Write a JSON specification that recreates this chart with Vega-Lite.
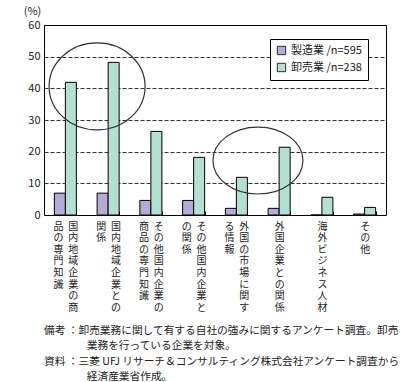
{
  "$schema": "https://vega.github.io/schema/vega-lite/v6.json",
  "autosize": "none",
  "width": 342,
  "height": 190,
  "padding": {"left": 44, "top": 25, "right": 26, "bottom": 167},
  "config": {
    "font": "Noto Sans CJK JP",
    "view": {"stroke": "black", "strokeWidth": 1},
    "axisY": {
      "labelOverlap": false,
      "titleAngle": 0,
      "titleX": -12,
      "titleY": -14,
      "titleAlign": "center",
      "titleBaseline": "middle",
      "titleFontWeight": "normal",
      "titleFontSize": 11,
      "titleColor": "#222",
      "labelFontSize": 11,
      "labelColor": "#222",
      "labelPadding": 4,
      "ticks": false,
      "domain": false,
      "grid": true,
      "gridColor": "black",
      "gridDash": [4, 2],
      "gridWidth": 0.8
    }
  },
  "title": {
    "text": [
      "備考 ：卸売業務に関して有する自社の強みに関するアンケート調査。卸売",
      "\u200B　　　　業務を行っている企業を対象。",
      "資料 ：三菱 UFJ リサーチ＆コンサルティング株式会社アンケート調査から",
      "\u200B　　　　経済産業省作成。"
    ],
    "orient": "bottom",
    "anchor": "start",
    "frame": "group",
    "fontSize": 10.7,
    "fontWeight": "normal",
    "lineHeight": 15.2,
    "color": "#222",
    "offset": 14
  },
  "layer": [
    {
      "data": {
        "values": [
          {"cat": "国内地域企業の商品の専門知識", "series": "製造業 /n=595", "value": 6.9},
          {"cat": "国内地域企業の商品の専門知識", "series": "卸売業 /n=238", "value": 41.9},
          {"cat": "国内地域企業との関係", "series": "製造業 /n=595", "value": 6.9},
          {"cat": "国内地域企業との関係", "series": "卸売業 /n=238", "value": 48.2},
          {"cat": "その他国内企業の商品の専門知識", "series": "製造業 /n=595", "value": 4.6},
          {"cat": "その他国内企業の商品の専門知識", "series": "卸売業 /n=238", "value": 26.4},
          {"cat": "その他国内企業との関係", "series": "製造業 /n=595", "value": 4.6},
          {"cat": "その他国内企業との関係", "series": "卸売業 /n=238", "value": 18.2},
          {"cat": "外国の市場に関する情報", "series": "製造業 /n=595", "value": 2.1},
          {"cat": "外国の市場に関する情報", "series": "卸売業 /n=238", "value": 11.9},
          {"cat": "外国企業との関係", "series": "製造業 /n=595", "value": 2.1},
          {"cat": "外国企業との関係", "series": "卸売業 /n=238", "value": 21.4},
          {"cat": "海外ビジネス人材", "series": "製造業 /n=595", "value": 0},
          {"cat": "海外ビジネス人材", "series": "卸売業 /n=238", "value": 5.6},
          {"cat": "その他", "series": "製造業 /n=595", "value": 0.3},
          {"cat": "その他", "series": "卸売業 /n=238", "value": 2.4}
        ]
      },
      "mark": {"type": "bar", "stroke": "black", "strokeWidth": 1},
      "encoding": {
        "x": {
          "field": "cat",
          "type": "nominal",
          "sort": null,
          "scale": {"paddingInner": 0.485, "paddingOuter": 0.2425},
          "axis": {
            "title": null,
            "labelAngle": 0,
            "labelFontSize": 10,
            "labelLineHeight": 11.6,
            "labelBaseline": "top",
            "labelAlign": "center",
            "labelColor": "#222",
            "labelPadding": 10,
            "labelOverlap": false,
            "tickBand": "extent",
            "tickSize": -4,
            "tickColor": "black",
            "domain": false,
            "labelExpr": "[(length(datum.label) > 8 ? '\u200B' + (length(datum.label) > 8 ? substring(datum.label, 8, 9) : '　') + '\u2002' : '') + substring(datum.label, 0, 1), (length(datum.label) > 8 ? '\u200B' + (length(datum.label) > 9 ? substring(datum.label, 9, 10) : '　') + '\u2002' : '') + substring(datum.label, 1, 2), (length(datum.label) > 8 ? '\u200B' + (length(datum.label) > 10 ? substring(datum.label, 10, 11) : '　') + '\u2002' : '') + substring(datum.label, 2, 3), (length(datum.label) > 8 ? '\u200B' + (length(datum.label) > 11 ? substring(datum.label, 11, 12) : '　') + '\u2002' : '') + substring(datum.label, 3, 4), (length(datum.label) > 8 ? '\u200B' + (length(datum.label) > 12 ? substring(datum.label, 12, 13) : '　') + '\u2002' : '') + substring(datum.label, 4, 5), (length(datum.label) > 8 ? '\u200B' + (length(datum.label) > 13 ? substring(datum.label, 13, 14) : '　') + '\u2002' : '') + substring(datum.label, 5, 6), (length(datum.label) > 8 ? '\u200B' + (length(datum.label) > 14 ? substring(datum.label, 14, 15) : '　') + '\u2002' : '') + substring(datum.label, 6, 7), (length(datum.label) > 8 ? '\u200B' + (length(datum.label) > 15 ? substring(datum.label, 15, 16) : '　') + '\u2002' : '') + substring(datum.label, 7, 8)]"
          }
        },
        "xOffset": {"field": "series", "type": "nominal", "sort": ["製造業 /n=595", "卸売業 /n=238"]},
        "y": {
          "field": "value",
          "type": "quantitative",
          "scale": {"domain": [0, 60]},
          "axis": {"values": [0, 10, 20, 30, 40, 50, 60], "title": "(%)"}
        },
        "color": {
          "field": "series",
          "type": "nominal",
          "sort": ["製造業 /n=595", "卸売業 /n=238"],
          "scale": {"range": ["#b4abd6", "#b3e0d3"]},
          "legend": {
            "title": null,
            "orient": "none",
            "legendX": 226,
            "legendY": 14,
            "strokeColor": "black",
            "fillColor": "white",
            "padding": 6,
            "symbolType": "square",
            "symbolSize": 70,
            "symbolStrokeColor": "black",
            "symbolStrokeWidth": 0.8,
            "symbolOpacity": 1,
            "labelFontSize": 11,
            "labelColor": "#222",
            "rowPadding": 4
          }
        }
      }
    },
    {
      "data": {"values": [{"cat": "国内地域企業の商品の専門知識", "v": 40.6}]},
      "mark": {
        "type": "point",
        "shape": "M -1 0 C -1 -0.5 -0.552 -0.906 0 -0.906 C 0.552 -0.906 1 -0.5 1 0 C 1 0.5 0.552 0.906 0 0.906 C -0.552 0.906 -1 0.5 -1 0 Z",
        "size": 9216,
        "filled": false,
        "stroke": "#333",
        "strokeWidth": 1.2,
        "opacity": 1
      },
      "encoding": {
        "x": {"field": "cat", "type": "nominal", "sort": null, "bandPosition": 1.94},
        "y": {"field": "v", "type": "quantitative", "axis": {"values": [0, 10, 20, 30, 40, 50, 60], "title": "(%)"}}
      }
    },
    {
      "data": {"values": [{"cat": "外国の市場に関する情報", "v": 17.2}]},
      "mark": {
        "type": "point",
        "shape": "M -1 0 C -1 -0.411 -0.552 -0.744 0 -0.744 C 0.552 -0.744 1 -0.411 1 0 C 1 0.411 0.552 0.744 0 0.744 C -0.552 0.744 -1 0.411 -1 0 Z",
        "size": 8100,
        "filled": false,
        "stroke": "#333",
        "strokeWidth": 1.2,
        "opacity": 1
      },
      "encoding": {
        "x": {"field": "cat", "type": "nominal", "sort": null, "bandPosition": 1.48},
        "y": {"field": "v", "type": "quantitative", "axis": {"values": [0, 10, 20, 30, 40, 50, 60], "title": "(%)"}}
      }
    }
  ]
}
